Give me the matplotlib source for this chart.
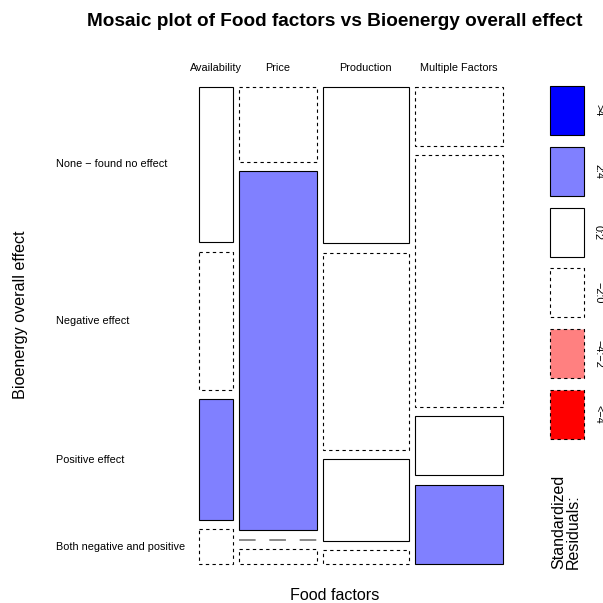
import numpy as np
import matplotlib.pyplot as plt
from matplotlib import patches as mpatches

plt.rcParams['font.family'] = ['Liberation Sans', 'DejaVu Sans']

# contingency table: rows = bioenergy effect, columns = food factor
food_factors = ['Availability', 'Price', 'Production', 'Multiple Factors']
effects = ['None \u2212 found no effect', 'Negative effect', 'Positive effect',
           'Both negative and positive']
counts = np.array([
    [9, 10, 23, 9],
    [8, 48, 29, 38],
    [7, 0, 12, 9],
    [2, 2, 2, 12],
])

legend_labels = ['>4', '2:4', '0:2', '\u22122:0', '\u22124:\u22122', '<\u22124']
legend_colors = ['#0000FF', '#8080FF', 'white', 'white', '#FF8080', '#FF0000']
legend_dashed = [False, False, False, True, True, True]

# standardized (Pearson) residuals
total = counts.sum()
expected = np.outer(counts.sum(axis=1), counts.sum(axis=0)) / total
resid = (counts - expected) / np.sqrt(expected)


def shade(r):
    if r > 4:
        return '#0000FF', False
    if r > 2:
        return '#8080FF', False
    if r >= 0:
        return 'white', False
    if r > -2:
        return 'white', True
    if r > -4:
        return '#FF8080', True
    return '#FF0000', True


W = 603
fig = plt.figure(figsize=(6.03, 6.03), dpi=100)
ax = fig.add_axes([0, 0, 1, 1])
ax.set_xlim(0, W)
ax.set_ylim(W, 0)
ax.axis('off')

# mosaic area (pixels)
x0, y0 = 199, 86.7
width, height = 304, 477.3
gx, gy = 6.0, 9.3
dash = (0, (3, 3))

ncol, nrow = len(food_factors), len(effects)
col_tot = counts.sum(axis=0)
col_w = (width - gx * (ncol - 1)) * col_tot / total

x = x0
for j in range(ncol):
    y = y0
    for i in range(nrow):
        h = (height - gy * (nrow - 1)) * counts[i, j] / col_tot[j]
        if counts[i, j] == 0:
            # empty cell drawn as a line
            ax.plot([x, x + col_w[j]], [y, y], color='#808080', lw=1.3,
                    linestyle=(0, (9.2, 7.6)))
        else:
            fc, dashed = shade(resid[i, j])
            ax.add_patch(mpatches.Rectangle((x, y), col_w[j], h, facecolor=fc,
                                            edgecolor='black', lw=0.8,
                                            linestyle=dash if dashed else '-'))
        # row labels follow the first column
        if j == 0:
            ax.text(56, y + h / 2, effects[i], fontsize=7.8, ha='left', va='center')
        y += h + gy
    ax.text(x + col_w[j] / 2, 68, food_factors[j], fontsize=7.8, ha='center', va='center')
    x += col_w[j] + gx

# legend of residual classes
for k, lab in enumerate(legend_labels):
    top = 86 + k * 60.8
    ax.add_patch(mpatches.Rectangle((549.5, top), 34, 49, facecolor=legend_colors[k],
                                    edgecolor='black', lw=0.8,
                                    linestyle=dash if legend_dashed[k] else '-'))
    ax.text(598, top + 24.5, lab, fontsize=7.8, rotation=-90, ha='center', va='center')

ax.text(566, 569, 'Standardized\nResiduals:', fontsize=11.5, rotation=90,
        ha='center', va='bottom', linespacing=0.95, multialignment='left')

ax.text(335, 22, 'Mosaic plot of Food factors vs Bioenergy overall effect',
        fontsize=13.7, fontweight='bold', ha='center', va='center')
ax.text(335, 596, 'Food factors', fontsize=11.6, ha='center', va='center')
ax.text(21, 315, 'Bioenergy overall effect', fontsize=11.6, rotation=90,
        ha='center', va='center')

fig.savefig('out.png', dpi=100)
